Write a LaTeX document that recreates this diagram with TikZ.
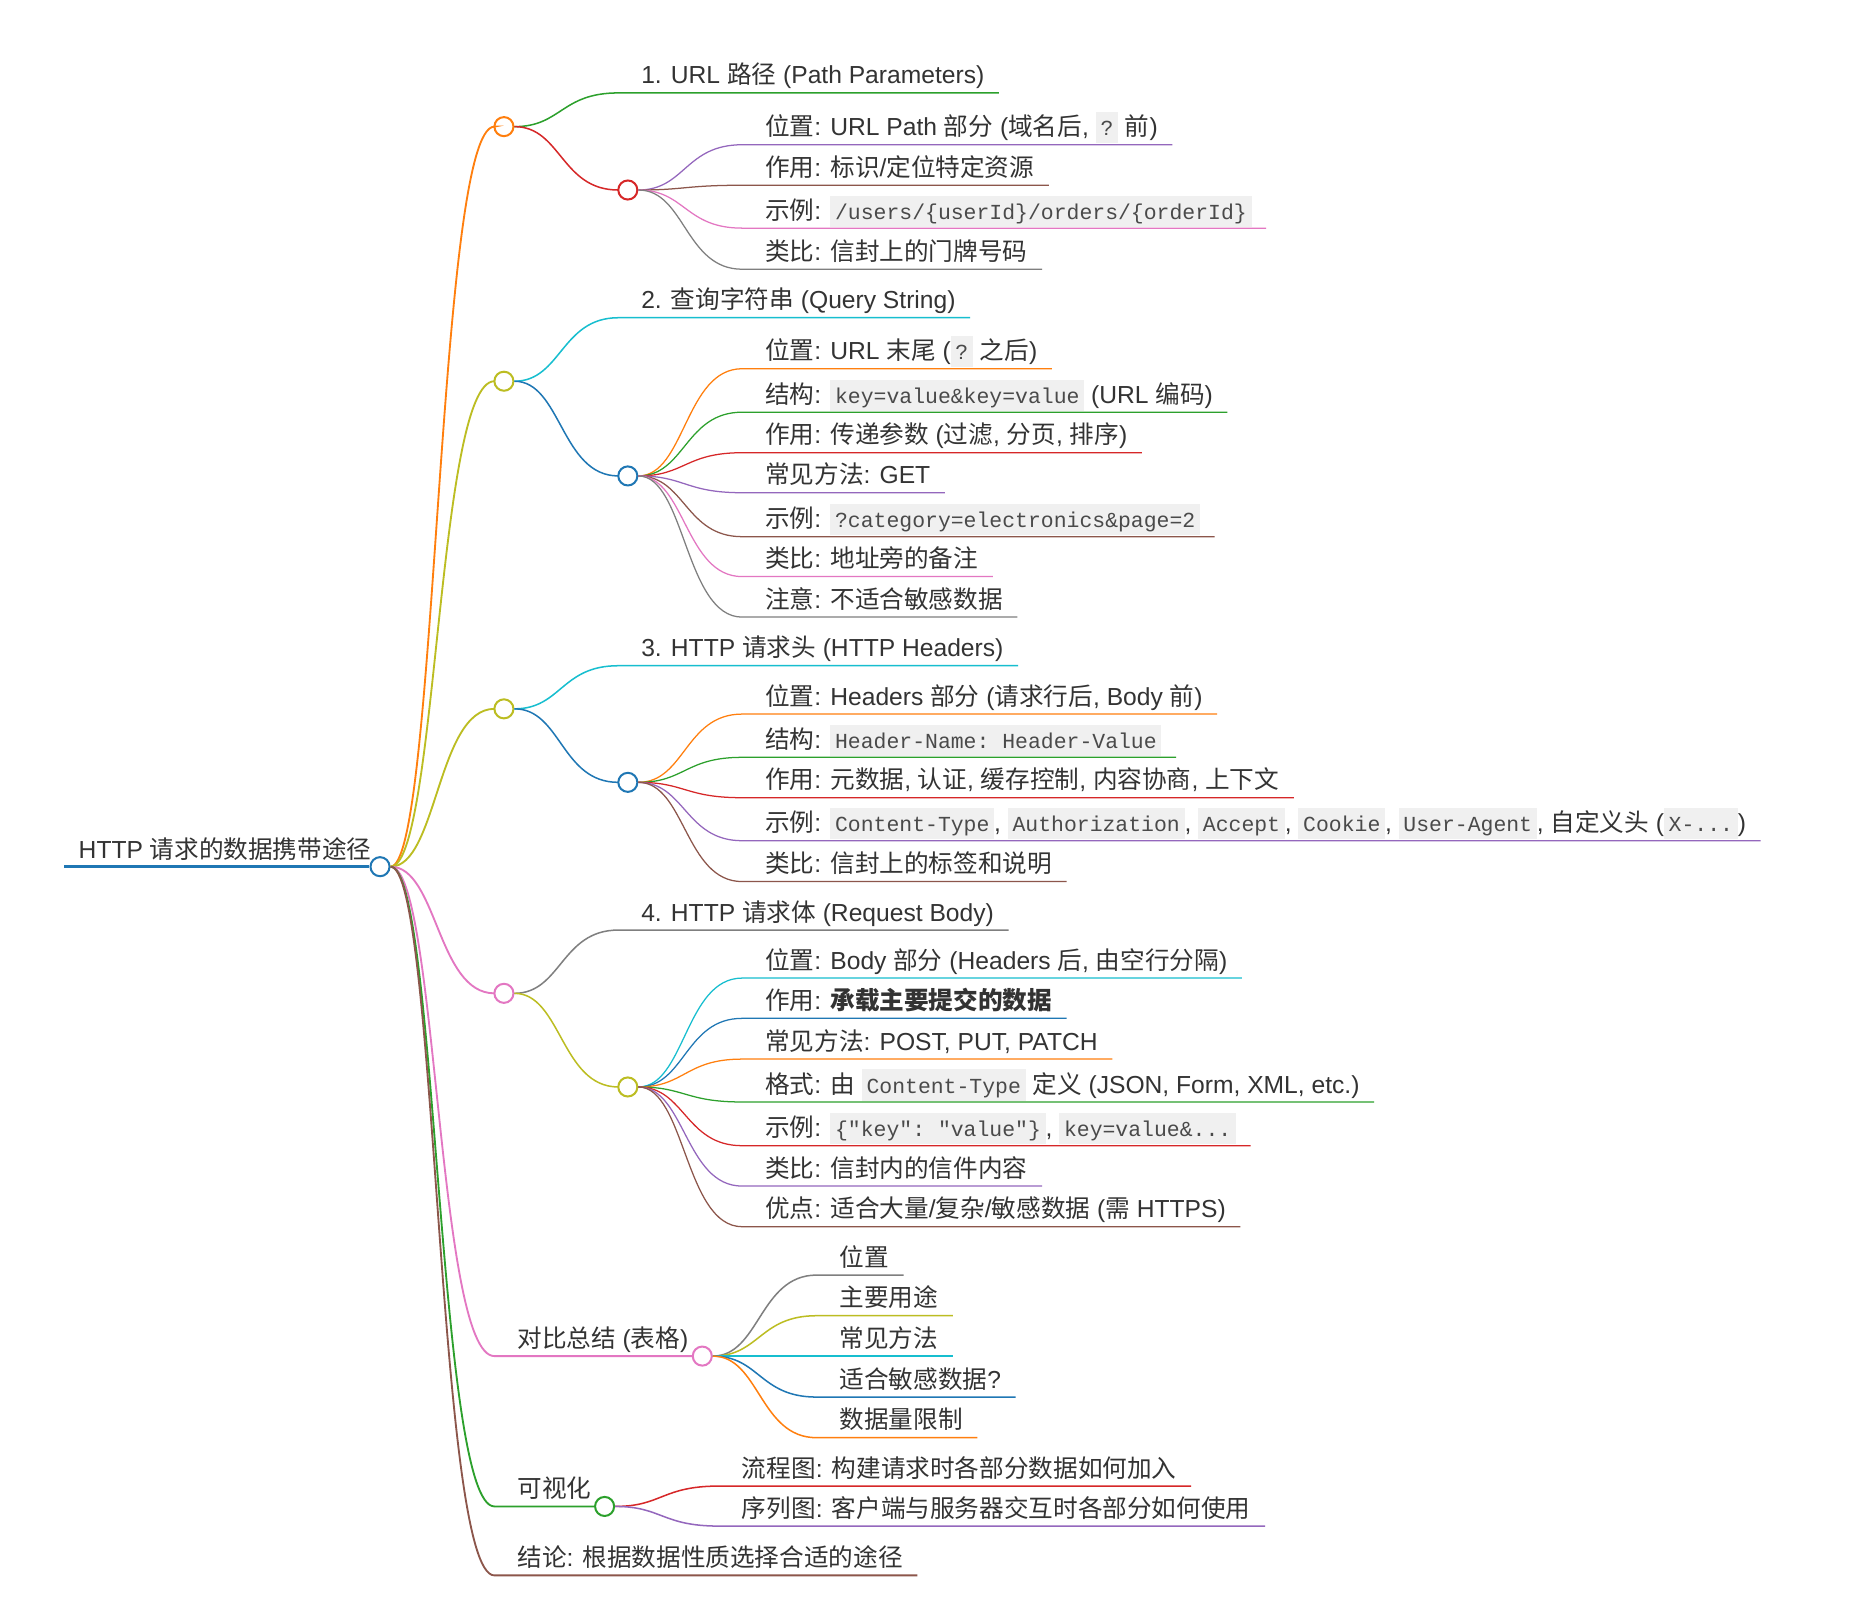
\documentclass[tikz,border=0pt]{standalone}
\usepackage{fontspec}
\setmainfont{Liberation Sans}
\setmonofont{Liberation Mono}
\newfontfamily\cjk{Noto Sans CJK SC}
\definecolor{cblue}{HTML}{1F77B4}
\definecolor{corange}{HTML}{FF7F0E}
\definecolor{cgreen}{HTML}{2CA02C}
\definecolor{cred}{HTML}{D62728}
\definecolor{cpurple}{HTML}{9467BD}
\definecolor{cbrown}{HTML}{8C564B}
\definecolor{cpink}{HTML}{E377C2}
\definecolor{cgray}{HTML}{7F7F7F}
\definecolor{colive}{HTML}{BCBD22}
\definecolor{ccyan}{HTML}{17BECF}
\definecolor{ctxt}{HTML}{333333}
\definecolor{codebg}{HTML}{F0F0F0}
\definecolor{codetxt}{HTML}{4A4A4A}
\newcommand\z[1]{{\cjk #1}}
\newcommand\code[1]{{\setlength\fboxsep{0pt}\colorbox{codebg}{\rule[-4.5pt]{0pt}{18.6pt}\hspace{2.8pt}{\color{codetxt}\fontsize{12.8pt}{15pt}\ttfamily #1}\hspace{2.8pt}}}}
\tikzset{
  lbl/.style={inner sep=0pt, anchor=base west, text=ctxt, font=\fontsize{14.7pt}{17pt}\selectfont},
  dot/.style={circle, fill=white, minimum size=0.4cm, inner sep=0pt, line width=1.2pt},
}
% #1 name #2 parent #3 px #4 py #5 color #6 lw #7 y #8 text
\newcommand\leaf[8]{%
  \coordinate (#1s) at (#3+96,#7);
  \node[lbl] (#1) at (#3+115,#7-7.5) {#8};
  \draw[#5, line width=#6] (#2) .. controls (#3+48,#4) and (#3+48,#7) .. (#1s) -- (#1s -| #1.east) -- ++(12,0);
}
% #1 name #2 parent #3 px #4 py #5 color #6 lw #7 y
\newcommand\ebranch[7]{%
  \coordinate (#1s) at (#3+96,#7);
  \node[dot, draw=#5] (#1) at (#3+104,#7) {};
  \draw[#5, line width=#6] (#2) .. controls (#3+48,#4) and (#3+48,#7) .. (#1s) -- (#1);
}
% #1 name #2 parent #3 px #4 py #5 color #6 lw #7 y #8 circle x #9 text
\newcommand\tbranch[9]{%
  \coordinate (#1s) at (#3+96,#7);
  \node[lbl] (#1t) at (#3+115,#7-7.5) {#9};
  \node[dot, draw=#5] (#1) at (#8,#7) {};
  \draw[#5, line width=#6] (#2) .. controls (#3+48,#4) and (#3+48,#7) .. (#1s) -- (#1);
}
\begin{document}
\begin{tikzpicture}[x=0.025cm,y=-0.025cm]
\fill[white] (0,0) rectangle (1568,1360);
\useasboundingbox (0,0) rectangle (1568,1360);
% root
\coordinate (R0) at (54,727.5);
\node[lbl] (roott) at (65.8,720.5) {HTTP \z{请求的数据携带途径}};
\node[dot, draw=cblue] (R) at (319,727.5) {};
\draw[cblue, line width=1.7pt] (R0) -- (R);
% 1
\ebranch{A}{R}{319}{727.5}{corange}{1.1pt}{106.3}
\leaf{A1}{A}{423}{106.3}{cgreen}{0.9pt}{78}{1. URL \z{路径} (Path Parameters)}
\ebranch{Ap}{A}{423}{106.3}{cred}{0.9pt}{159.5}
\leaf{Ap1}{Ap}{527}{159.5}{cpurple}{0.75pt}{121.5}{\z{位置}: URL Path \z{部分} (\z{域名后}, \code{?} \z{前})}
\leaf{Ap2}{Ap}{527}{159.5}{cbrown}{0.75pt}{155.5}{\z{作用}: \z{标识}/\z{定位特定资源}}
\leaf{Ap3}{Ap}{527}{159.5}{cpink}{0.75pt}{191.5}{\z{示例}: \code{/users/\{userId\}/orders/\{orderId\}}}
\leaf{Ap4}{Ap}{527}{159.5}{cgray}{0.75pt}{226}{\z{类比}: \z{信封上的门牌号码}}
% 2
\ebranch{B}{R}{319}{727.5}{colive}{1.1pt}{320}
\leaf{B1}{B}{423}{320}{ccyan}{0.9pt}{266.7}{2. \z{查询字符串} (Query String)}
\ebranch{Bp}{B}{423}{320}{cblue}{0.9pt}{399.5}
\leaf{Bp1}{Bp}{527}{399.5}{corange}{0.75pt}{309.5}{\z{位置}: URL \z{末尾} (\code{?} \z{之后})}
\leaf{Bp2}{Bp}{527}{399.5}{cgreen}{0.75pt}{346}{\z{结构}: \code{key=value\&key=value} (URL \z{编码})}
\leaf{Bp3}{Bp}{527}{399.5}{cred}{0.75pt}{380}{\z{作用}: \z{传递参数} (\z{过滤}, \z{分页}, \z{排序})}
\leaf{Bp4}{Bp}{527}{399.5}{cpurple}{0.75pt}{413.6}{\z{常见方法}: GET}
\leaf{Bp5}{Bp}{527}{399.5}{cbrown}{0.75pt}{450.5}{\z{示例}: \code{?category=electronics\&page=2}}
\leaf{Bp6}{Bp}{527}{399.5}{cpink}{0.75pt}{484}{\z{类比}: \z{地址旁的备注}}
\leaf{Bp7}{Bp}{527}{399.5}{cgray}{0.75pt}{518}{\z{注意}: \z{不适合敏感数据}}
% 3
\ebranch{C}{R}{319}{727.5}{colive}{1.1pt}{595}
\leaf{C1}{C}{423}{595}{ccyan}{0.9pt}{558.8}{3. HTTP \z{请求头} (HTTP Headers)}
\ebranch{Cp}{C}{423}{595}{cblue}{0.9pt}{656.7}
\leaf{Cp1}{Cp}{527}{656.7}{corange}{0.75pt}{599.4}{\z{位置}: Headers \z{部分} (\z{请求行后}, Body \z{前})}
\leaf{Cp2}{Cp}{527}{656.7}{cgreen}{0.75pt}{635.7}{\z{结构}: \code{Header-Name: Header-Value}}
\leaf{Cp3}{Cp}{527}{656.7}{cred}{0.75pt}{669.6}{\z{作用}: \z{元数据}, \z{认证}, \z{缓存控制}, \z{内容协商}, \z{上下文}}
\leaf{Cp4}{Cp}{527}{656.7}{cpurple}{0.75pt}{705.7}{\z{示例}: \code{Content-Type}, \code{Authorization}, \code{Accept}, \code{Cookie}, \code{User-Agent}, \z{自定义头} (\code{X-...})}
\leaf{Cp5}{Cp}{527}{656.7}{cbrown}{0.75pt}{740}{\z{类比}: \z{信封上的标签和说明}}
% 4
\ebranch{D}{R}{319}{727.5}{cpink}{1.1pt}{833.8}
\leaf{D1}{D}{423}{833.8}{cgray}{0.9pt}{780.7}{4. HTTP \z{请求体} (Request Body)}
\ebranch{Dp}{D}{423}{833.8}{colive}{0.9pt}{912.4}
\leaf{Dp1}{Dp}{527}{912.4}{ccyan}{0.75pt}{821}{\z{位置}: Body \z{部分} (Headers \z{后}, \z{由空行分隔})}
\leaf{Dp2}{Dp}{527}{912.4}{cblue}{0.75pt}{854.8}{\z{作用}: {\cjk\bfseries 承载主要提交的数据}}
\leaf{Dp3}{Dp}{527}{912.4}{corange}{0.75pt}{889}{\z{常见方法}: POST, PUT, PATCH}
\leaf{Dp4}{Dp}{527}{912.4}{cgreen}{0.75pt}{925}{\z{格式}: \z{由} \code{Content-Type} \z{定义} (JSON, Form, XML, etc.)}
\leaf{Dp5}{Dp}{527}{912.4}{cred}{0.75pt}{961.7}{\z{示例}: \code{\{"key": "value"\}}, \code{key=value\&...}}
\leaf{Dp6}{Dp}{527}{912.4}{cpurple}{0.75pt}{995.6}{\z{类比}: \z{信封内的信件内容}}
\leaf{Dp7}{Dp}{527}{912.4}{cbrown}{0.75pt}{1029.7}{\z{优点}: \z{适合大量}/\z{复杂}/\z{敏感数据} (\z{需} HTTPS)}
% summary
\tbranch{E}{R}{319}{727.5}{cpink}{1.1pt}{1138.3}{589.5}{\z{对比总结} (\z{表格})}
\leaf{E1}{E}{589.5}{1138.3}{cgray}{0.9pt}{1070.3}{\z{位置}}
\leaf{E2}{E}{589.5}{1138.3}{colive}{0.9pt}{1104.4}{\z{主要用途}}
\leaf{E3}{E}{589.5}{1138.3}{ccyan}{0.9pt}{1138.3}{\z{常见方法}}
\leaf{E4}{E}{589.5}{1138.3}{cblue}{0.9pt}{1172.7}{\z{适合敏感数据}?}
\leaf{E5}{E}{589.5}{1138.3}{corange}{0.9pt}{1206.8}{\z{数据量限制}}
% visualisation
\tbranch{F}{R}{319}{727.5}{cgreen}{1.1pt}{1264.5}{507.5}{\z{可视化}}
\leaf{F1}{F}{507.5}{1264.5}{cred}{0.9pt}{1247.4}{\z{流程图}: \z{构建请求时各部分数据如何加入}}
\leaf{F2}{F}{507.5}{1264.5}{cpurple}{0.9pt}{1281}{\z{序列图}: \z{客户端与服务器交互时各部分如何使用}}
% conclusion
\leaf{G}{R}{319}{727.5}{cbrown}{1.1pt}{1322.4}{\z{结论}: \z{根据数据性质选择合适的途径}}
\end{tikzpicture}
\end{document}
